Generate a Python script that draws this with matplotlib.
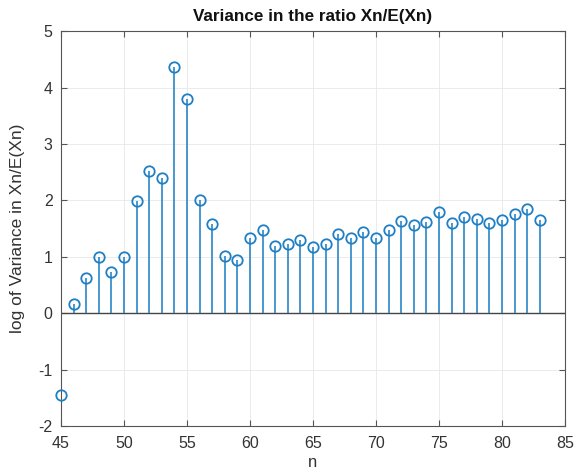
import matplotlib
matplotlib.use("Agg")
import matplotlib.pyplot as plt
import numpy as np

n = list(range(45, 84))
values = [-1.45, 0.17, 0.63, 0.99, 0.73, 1.00, 1.99, 2.52, 2.39, 4.36,
          3.80, 2.00, 1.58, 1.01, 0.94, 1.34, 1.48, 1.19, 1.23, 1.29,
          1.17, 1.23, 1.40, 1.34, 1.44, 1.33, 1.47, 1.63, 1.56, 1.61,
          1.79, 1.60, 1.70, 1.67, 1.59, 1.65, 1.75, 1.84, 1.66]
xticks = [45, 50, 55, 60, 65, 70, 75, 80, 85]
yticks = [-2, -1, 0, 1, 2, 3, 4, 5]

plt.rcParams['font.family'] = ['Liberation Sans', 'DejaVu Sans']
plt.rcParams['axes.unicode_minus'] = False
fig = plt.figure(figsize=(5.8, 4.72), dpi=100)
ax = fig.add_axes([0.105, 0.0975, 0.869, 0.8365])

col = '#0072BD'
ml, sl, bl = ax.stem(n, values, basefmt=' ')
plt.setp(sl, color='#2a86c8', linewidth=1.2)
plt.setp(ml, color=col, markerfacecolor='none', markeredgecolor='#1f7fc4',
         markersize=7.5, markeredgewidth=1.3, clip_on=False, zorder=3)
ax.axhline(0, color='#444444', linewidth=1.0, zorder=1.5)

ax.set_xlim(45, 85)
ax.set_ylim(-2, 5)
ax.set_xticks(xticks)
ax.set_yticks(yticks)
ax.grid(True, color='#e8e8e8', linewidth=0.6)
ax.set_axisbelow(True)
ax.tick_params(direction='in', top=True, right=True, length=4, colors='#555555',
               labelcolor='#333333', labelsize=11.5)
ax.tick_params(axis='x', pad=7)
ax.tick_params(axis='y', pad=6)
for s in ax.spines.values():
    s.set_color('#555555')
    s.set_linewidth(0.8)

ax.set_title('Variance in the ratio Xn/E(Xn)', fontsize=12.3, fontweight='bold', color='#111111', pad=7)
ax.set_xlabel('n', fontsize=12, color='#333333')
ax.xaxis.set_label_coords(0.5, -0.074)
ax.set_ylabel('log of Variance in Xn/E(Xn)', fontsize=12.5, color='#333333')
ax.yaxis.set_label_coords(-0.072, 0.5)

fig.savefig('out.png', dpi=100)
